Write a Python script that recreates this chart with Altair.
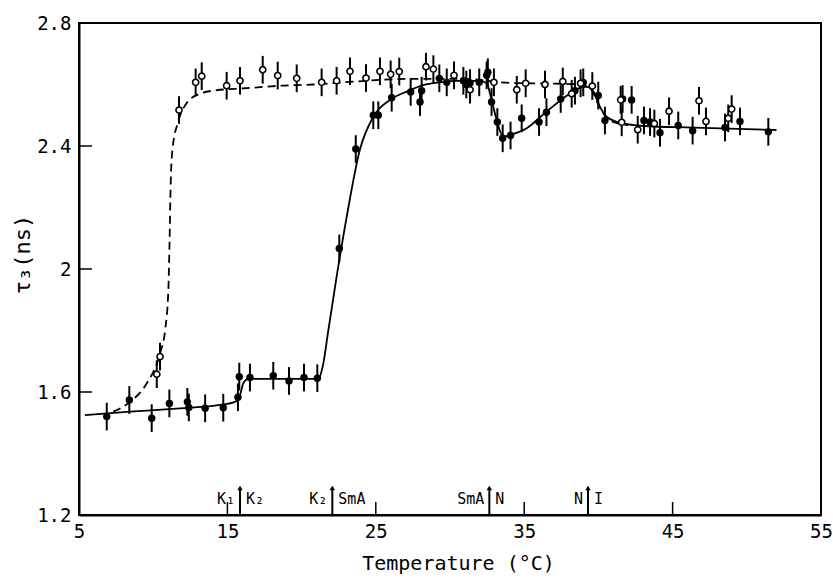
import altair as alt
import pandas as pd

# ---- data ----
filled_x = [6.87, 8.39, 9.9, 11.09, 12.3, 12.4, 13.5, 14.72, 15.71, 15.8, 16.52, 18.09, 19.15,
            20.16, 21.06, 22.54, 23.65, 24.83, 25.17, 26.07, 27.35, 27.98, 28.09, 29.28, 29.78,
            30.9, 31.1, 31.35, 31.97, 32.47, 32.55, 32.8, 33.19, 33.55, 34.08, 34.83, 36.0, 36.5,
            37.46, 38.42, 38.98, 39.99, 40.44, 41.63, 42.24, 43.07, 43.48, 44.15, 45.38, 46.35,
            48.53, 49.54, 51.45]
filled_y = [1.52, 1.574, 1.515, 1.563, 1.568, 1.55, 1.547, 1.549, 1.583, 1.65, 1.647, 1.653, 1.636,
            1.647, 1.645, 2.067, 2.39, 2.5, 2.5, 2.557, 2.576, 2.543, 2.58, 2.62, 2.607,
            2.612, 2.60, 2.605, 2.607, 2.63, 2.64, 2.543, 2.478, 2.425, 2.434, 2.49, 2.478, 2.51,
            2.553, 2.58, 2.607, 2.564, 2.483, 2.553, 2.55, 2.483, 2.478, 2.443, 2.467, 2.45,
            2.46, 2.48, 2.446]

open_x = [10.24, 10.46, 11.74, 12.86, 13.27, 14.95, 15.85, 17.38, 18.39, 19.67, 21.35, 22.36,
          23.26, 24.34, 25.28, 26.0, 26.58, 28.38, 28.88, 30.27, 31.35, 32.96, 34.5, 35.1, 36.4,
          37.6, 38.2, 38.8, 39.59, 41.5, 41.57, 42.65, 43.77, 44.76, 46.78, 47.25, 48.75, 48.98]
open_y = [1.658, 1.715, 2.517, 2.607, 2.627, 2.596, 2.612, 2.648, 2.629, 2.62, 2.607, 2.612,
          2.643, 2.621, 2.643, 2.633, 2.642, 2.658, 2.65, 2.63, 2.583, 2.607, 2.583, 2.604, 2.6,
          2.61, 2.57, 2.604, 2.595, 2.55, 2.477, 2.453, 2.473, 2.513, 2.547, 2.48, 2.49, 2.52]

err = 0.045

solid_x = [5.4, 8.44, 11.8, 14.5, 15.51, 15.85, 16.07, 16.41, 18.5, 21.13, 21.42, 21.8, 22.36,
           23.04, 23.94, 24.83, 25.96, 27.08, 28.2, 29.33, 30.45, 32.0, 32.47, 32.8, 33.14,
           33.59, 34.04, 35.17, 36.51, 38.09, 38.7, 39.2, 39.66, 40.1, 40.56, 41.57, 43.03,
           46.4, 52.0]
solid_y = [1.525, 1.536, 1.547, 1.558, 1.568, 1.59, 1.628, 1.643, 1.643, 1.643, 1.682, 1.80, 1.975,
           2.17, 2.39, 2.495, 2.55, 2.577, 2.598, 2.607, 2.612, 2.612, 2.604, 2.55, 2.485,
           2.43, 2.436, 2.458, 2.512, 2.571, 2.588, 2.592, 2.577, 2.528, 2.495, 2.474, 2.465,
           2.46, 2.452]

dash_x = [7.31, 8.44, 9.56, 10.46, 10.8, 11.02, 11.09, 11.18, 11.3, 11.69, 12.26, 13.15, 14.05,
          16.3, 18.54, 20.79, 23.7, 27.0, 31.0, 34.0, 37.0, 38.8, 39.5, 40.0, 40.5, 41.2, 42.0]
dash_y = [1.536, 1.568, 1.628, 1.726, 1.80, 1.93, 2.06, 2.28, 2.39, 2.48, 2.54, 2.57, 2.58,
          2.588, 2.596, 2.6, 2.61, 2.618, 2.618, 2.605, 2.603, 2.60, 2.585, 2.535, 2.495, 2.475, 2.468]

arrow_x = [15.85, 22.07, 32.65, 39.3]
arrow_left = ["K\u2081", "K\u2082", "SmA", "N"]
arrow_right = ["K\u2082", "SmA", "N", "I"]

x_ticks = [15, 25, 35, 45]
y_ticks = [1.6, 2.0, 2.4]
x_labels = [5, 15, 25, 35, 45, 55]
y_labels = [1.2, 1.6, 2.0, 2.4, 2.8]

FONT = "DejaVu Sans Mono"

fdf = pd.DataFrame({"x": filled_x, "y": filled_y})
fdf["lo"] = fdf["y"] - err
fdf["hi"] = fdf["y"] + err
odf = pd.DataFrame({"x": open_x, "y": open_y})
odf["lo"] = odf["y"] - err
odf["hi"] = odf["y"] + err
sdf = pd.DataFrame({"x": solid_x, "y": solid_y})
ddf = pd.DataFrame({"x": dash_x, "y": dash_y})
adf = pd.DataFrame({"x": arrow_x, "l": arrow_left, "r": arrow_right})
xtdf = pd.DataFrame({"x": x_ticks})
ytdf = pd.DataFrame({"y": y_ticks})

xscale = alt.Scale(domain=[5, 55], nice=False, zero=False)
yscale = alt.Scale(domain=[1.2, 2.8], nice=False, zero=False)

XAXIS = alt.Axis(values=x_labels, format="d", ticks=False, grid=False,
                 labelFlush=False, labelOverlap=False, labelPadding=7,
                 titleX=379, titleY=48, titleBaseline="middle", titleFontSize=20)
YAXIS = alt.Axis(values=y_labels, ticks=False, grid=False, labelPadding=8,
                 labelExpr="datum.value == 2 ? '2' : format(datum.value, '.1f')",
                 titleX=-57, titleY=231, titleAngle=-90, titleBaseline="middle",
                 titleAlign="center", titleFontSize=22)
XTITLE = "Temperature (\u00b0C)"
YTITLE = "\u03c4\u2083(ns)"


def X():
    return alt.X("x:Q", scale=xscale, axis=XAXIS, title=XTITLE)


def Y(f="y"):
    return alt.Y(f + ":Q", scale=yscale, axis=YAXIS, title=YTITLE)


err_f = alt.Chart(fdf).mark_rule(color="black", strokeWidth=2).encode(
    x=X(), y=Y("lo"), y2="hi:Q")
err_o = alt.Chart(odf).mark_rule(color="black", strokeWidth=2).encode(
    x=X(), y=Y("lo"), y2="hi:Q")

solid = alt.Chart(sdf).mark_line(color="black", strokeWidth=1.8, interpolate="monotone").encode(
    x=X(), y=Y(), order="x:Q")
dashed = alt.Chart(ddf).mark_line(color="black", strokeWidth=1.8, strokeDash=[8, 5],
                                  interpolate="monotone").encode(x=X(), y=Y(), order="x:Q")

pts_f = alt.Chart(fdf).mark_point(shape="circle", filled=True, color="black", opacity=1,
                                  size=55).encode(x=X(), y=Y())
pts_o = alt.Chart(odf).mark_point(shape="circle", filled=True, fill="white", stroke="black",
                                  strokeWidth=1.6, opacity=1, size=38).encode(x=X(), y=Y())

xt = alt.Chart(xtdf).mark_rule(color="black", strokeWidth=1.5).encode(
    x=X(), y=alt.value(492), y2=alt.value(479))
yt = alt.Chart(ytdf).mark_rule(color="black", strokeWidth=1.5).encode(
    y=Y(), x=alt.value(0), x2=alt.value(13))

arr = alt.Chart(adf).mark_rule(color="black", strokeWidth=2).encode(
    x=X(), y=alt.value(492), y2=alt.value(464))
head = alt.Chart(adf).mark_point(shape="triangle-up", filled=True, color="black", opacity=1,
                                 size=30).encode(x=X(), y=alt.value(465))
lab_l = alt.Chart(adf).mark_text(align="right", dx=-5, font=FONT, fontSize=15,
                                 baseline="middle", color="black").encode(
    x=X(), y=alt.value(476), text="l:N")
lab_r = alt.Chart(adf).mark_text(align="left", dx=6, font=FONT, fontSize=15,
                                 baseline="middle", color="black").encode(
    x=X(), y=alt.value(476), text="r:N")

chart = alt.layer(err_f, err_o, solid, dashed, pts_f, pts_o, xt, yt, arr, head, lab_l, lab_r).properties(
    width=742, height=492,
    autosize=alt.AutoSizeParams(type="none"),
    padding={"left": 79, "top": 23, "right": 12, "bottom": 63},
    background="white",
).configure_view(stroke="black", strokeWidth=2).configure_axis(
    domainColor="black", domainWidth=2, labelColor="black", titleColor="black",
    labelFont=FONT, titleFont=FONT, labelFontSize=19,
    labelFontWeight="normal", titleFontWeight="normal",
)

chart.save("out.html", embed_options={"renderer": "svg", "actions": False})
